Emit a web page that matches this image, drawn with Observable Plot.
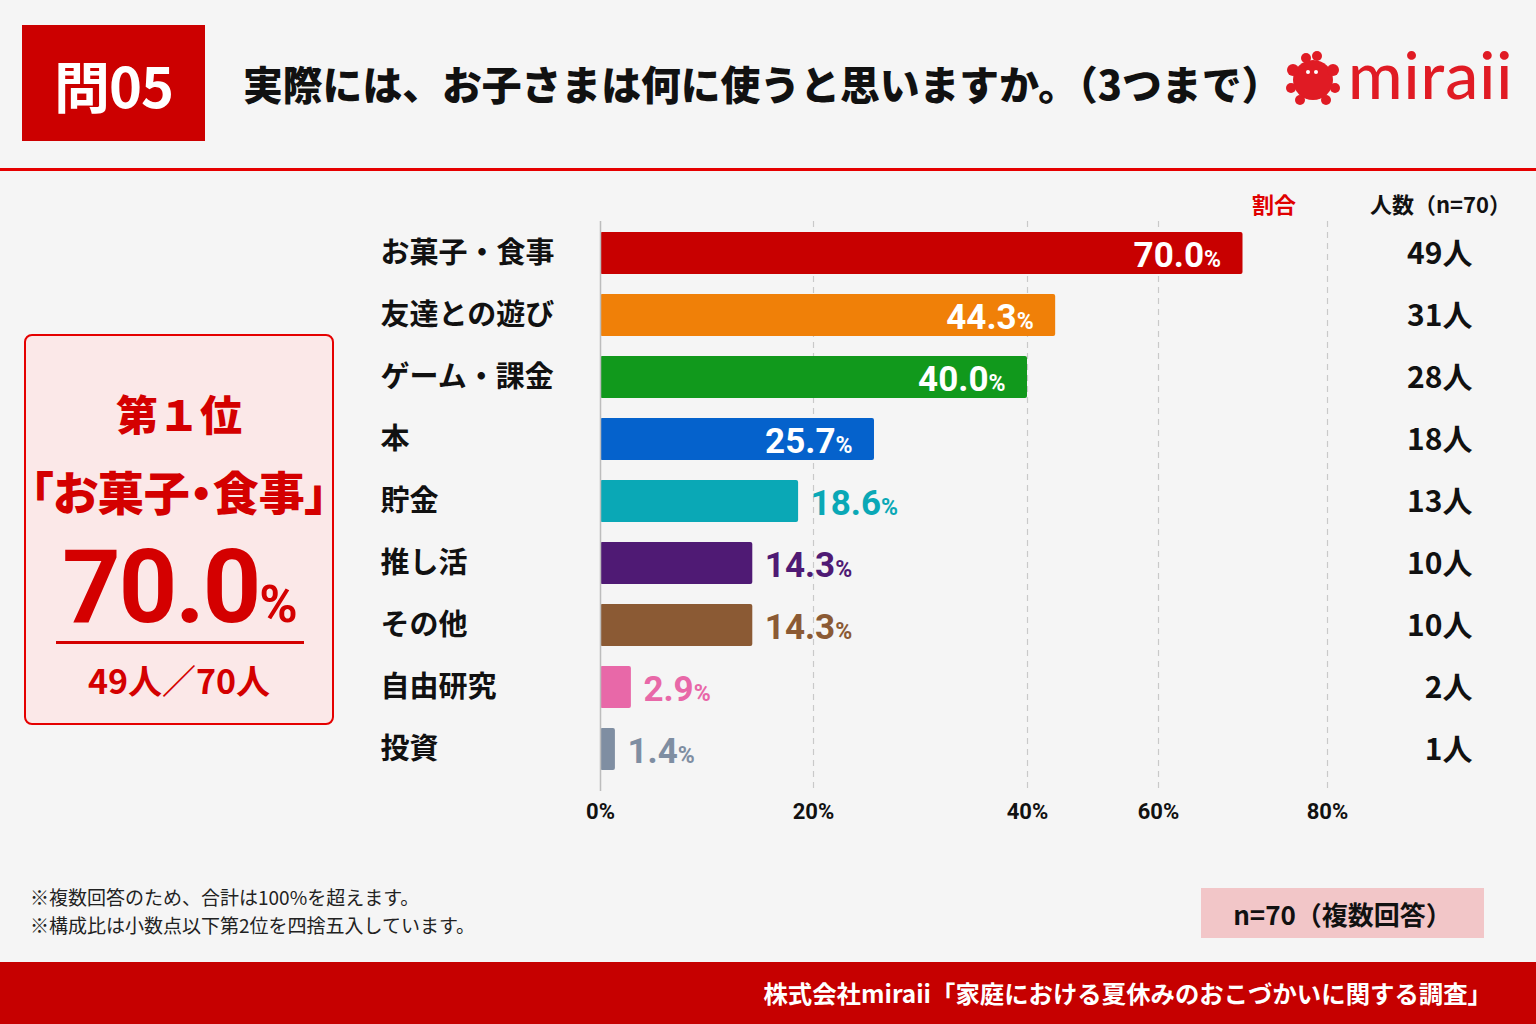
<!DOCTYPE html>
<html><head><meta charset="utf-8">
<script src="https://cdn.jsdelivr.net/npm/d3@7"></script>
<script src="https://cdn.jsdelivr.net/npm/@observablehq/plot@0.6"></script>
<style>
html,body{margin:0;padding:0;background:#f5f5f5;}
body{width:1536px;height:1024px;position:relative;overflow:hidden;font-family:"Noto Sans CJK JP","Noto Sans",sans-serif;}
.abs{position:absolute;}
#qbox{left:22px;top:25px;width:183px;height:116px;background:#cc0000;color:#fff;font-weight:700;font-size:56px;display:flex;align-items:center;justify-content:center;letter-spacing:-1px;}
#title{left:243px;top:55px;font-size:39.8px;font-weight:900;color:#111;white-space:nowrap;line-height:56px;}
#logo{left:1286px;top:50px;}
#logotext{left:1348px;top:34px;font-family:Lato,"Noto Sans",sans-serif;font-size:66px;color:#e01b24;font-weight:500;line-height:80px;letter-spacing:1px;}
#rule{left:0;top:168px;width:1536px;height:3px;background:#e60000;}
#card{left:24px;top:334px;width:306px;height:387px;border:2.5px solid #e50000;border-radius:8px;background:#fbe8e8;color:#d40000;text-align:center;}
#card .l1{position:absolute;left:0;right:0;top:52px;font-size:42px;font-weight:900;line-height:50px;}
#card .l2{position:absolute;left:0;right:0;top:126px;font-size:46px;font-weight:900;line-height:56px;font-feature-settings:"palt";white-space:nowrap;}
#card .l3{position:absolute;left:0;right:0;top:196px;font-family:Roboto,"Noto Sans",sans-serif;font-size:102px;font-weight:700;line-height:110px;letter-spacing:-2px;}
#card .l3 span{font-size:52px;}
#card .ul{position:absolute;left:30px;width:248px;top:305px;height:3px;background:#d40000;}
#card .l4{position:absolute;left:0;right:0;top:322px;font-size:34px;font-weight:700;line-height:44px;}
.colh{top:188px;font-size:22px;font-weight:700;line-height:30px;white-space:nowrap;}
#hd1{left:1252px;color:#e00000;}
#hd2{left:1370px;color:#111;}
#plot{left:0;top:180px;}
.note{left:30px;font-size:19px;color:#222;line-height:24px;white-space:nowrap;}
#nbox{left:1201px;top:888px;width:283px;height:50px;background:#f2c6c8;color:#111;font-size:26px;font-weight:700;display:flex;align-items:center;justify-content:center;white-space:nowrap;}
#footer{left:0;top:962px;width:1536px;height:62px;background:#c60000;}
#foottext{right:44px;top:974px;color:#fff;font-size:24.4px;font-weight:700;line-height:38px;white-space:nowrap;}
</style></head><body>
<div id="qbox" class="abs">問05</div>
<div id="title" class="abs">実際には、お子さまは何に使うと思いますか。（3つまで）</div>
<svg id="logo" class="abs" width="60" height="60" viewBox="0 0 60 60">
  <g fill="#e01b24">
    <circle cx="27" cy="30" r="20"/>
    <circle cx="20" cy="8" r="5"/><circle cx="31" cy="6" r="5"/>
    <circle cx="7" cy="20" r="6"/><circle cx="47" cy="20" r="6"/>
    <circle cx="5" cy="38" r="5"/><circle cx="49" cy="38" r="5"/>
    <circle cx="14" cy="50" r="5"/><circle cx="40" cy="50" r="5"/>
  </g>
  <circle cx="22" cy="22" r="2" fill="#fff"/><circle cx="30" cy="22" r="2" fill="#fff"/>
</svg>
<div id="logotext" class="abs">miraii</div>
<div id="rule" class="abs"></div>
<div id="card" class="abs">
  <div class="l1">第１位</div>
  <div class="l2">「お菓子・食事」</div>
  <div class="l3">70.0<span>%</span></div>
  <div class="ul"></div>
  <div class="l4">49人／70人</div>
</div>
<div id="hd1" class="abs colh">割合</div>
<div id="hd2" class="abs colh">人数（n=70）</div>
<div id="plot" class="abs"></div>
<div class="abs note" style="top:885px">※複数回答のため、合計は100%を超えます。</div>
<div class="abs note" style="top:913px">※構成比は小数点以下第2位を四捨五入しています。</div>
<div id="nbox" class="abs">n=70（複数回答）</div>
<div id="footer" class="abs"></div>
<div id="foottext" class="abs">株式会社miraii「家庭における夏休みのおこづかいに関する調査」</div>
<script>
const categories = ["お菓子・食事","友達との遊び","ゲーム・課金","本","貯金","推し活","その他","自由研究","投資"];
const percents = [70.0,44.3,40.0,25.7,18.6,14.3,14.3,2.9,1.4];
const counts = [49,31,28,18,13,10,10,2,1];
const barColors = ["#c80000","#f08008","#11991c","#0562cc","#0aa8b6","#4f1a74","#8b5a34","#e868a8","#7f8ea2"];
const xTicks = [0,20,40,60,80];
const insideCount = 4;

const rows = categories.map((c,i)=>({cat:c,pct:percents[i],count:counts[i],color:barColors[i],inside:i<insideCount}));
const fmt = d => d.pct.toFixed(1)+"%";

const chart = Plot.plot({
  width:1536, height:660,
  marginTop:31, marginBottom:49, marginLeft:600, marginRight:209,
  style:{background:"transparent", fontFamily:'"Noto Sans CJK JP","Noto Sans",sans-serif', overflow:"visible"},
  x:{type:"linear", domain:xTicks, range:[600,813,1027,1158,1327], axis:null, label:null},
  y:{domain:categories, padding:0.32, axis:null},
  color:{type:"identity"},
  marks:[
    Plot.ruleX(xTicks.filter(t=>t>0), {stroke:"#c9c9c9", strokeDasharray:"6,5", strokeWidth:1.2, insetTop:10}),
    Plot.barX(rows, {x:"pct", y:"cat", fill:"color", rx:2}),
    Plot.ruleX([0], {stroke:"#bdbdbd", strokeWidth:1.5, insetTop:10}),
    Plot.text(rows, {y:"cat", text:"cat", frameAnchor:"left", textAnchor:"start", dx:-220, fontSize:29, fontWeight:700, fill:"#111"}),
    Plot.text(rows.filter(d=>d.inside), {x:"pct", y:"cat", text:fmt, textAnchor:"end", dx:-22, dy:2, fill:"#fff", fontSize:35, fontWeight:700, fontFamily:"Roboto"}),
    Plot.text(rows.filter(d=>!d.inside), {x:"pct", y:"cat", text:fmt, textAnchor:"start", dx:12, dy:2, fill:"color", fontSize:35, fontWeight:700, fontFamily:"Roboto"}),
    Plot.text(rows, {y:"cat", text:d=>d.count+"人", frameAnchor:"right", textAnchor:"end", dx:145, dy:1, fontSize:30, fontWeight:700, fill:"#111"}),
    Plot.axisX(xTicks, {tickFormat:d=>d+"%", tickSize:0, tickPadding:12, fontSize:22, fontWeight:700, fill:"#111", fontFamily:"Roboto", label:null})
  ]
});
document.getElementById("plot").appendChild(chart);
d3.select(chart).selectAll("text").each(function(){
  const t = this.textContent;
  if (/^\d+\.\d%$/.test(t)) {
    const sel = d3.select(this);
    sel.text(t.slice(0,-1));
    sel.append("tspan").attr("font-size",23).text("%");
  }
});
</script>
</body></html>
